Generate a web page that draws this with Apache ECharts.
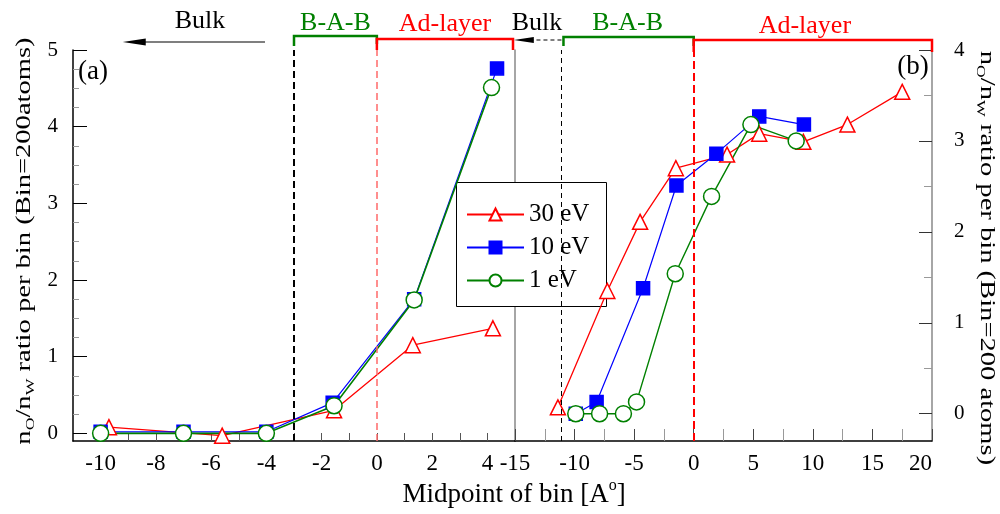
<!DOCTYPE html>
<html>
<head>
    <meta charset="UTF-8">
    <title>nO/nW ratio per bin</title>
    <script src="https://cdn.jsdelivr.net/npm/echarts@6/dist/echarts.min.js"></script>
    <style>
        html, body { margin: 0; padding: 0; background: #fff; }
        #main { width: 1000px; height: 514px; }
    </style>
</head>
<body>
    <div id="main"></div>
    <script type="text/javascript">
        // 面板 (a) 的数据
        var aX30 = [-9.7, -5.6, -1.55, 1.3, 4.2];
        var aY30 = [0.08, -0.03, 0.3, 1.15, 1.37];
        var aX10 = [-10, -7, -4, -1.6, 1.35, 4.35];
        var aY10 = [0.02, 0.02, 0.02, 0.4, 1.75, 4.76];
        var aX1 = [-10, -7, -4, -1.55, 1.35, 4.15];
        var aY1 = [0, 0, 0, 0.36, 1.74, 4.51];

        // 面板 (b) 的数据
        var bX30 = [-11.4, -7.25, -4.5, -1.5, 2.8, 5.5, 9.2, 12.9, 17.5];
        var bY30 = [0.07, 1.35, 2.11, 2.7, 2.85, 3.08, 2.99, 3.18, 3.54];
        var bX10 = [-9.9, -8.15, -4.25, -1.45, 1.9, 5.5, 9.25];
        var bY10 = [0, 0.13, 1.38, 2.51, 2.86, 3.27, 3.18];
        var bX1 = [-9.9, -7.9, -5.9, -4.8, -1.55, 1.5, 4.8, 8.6];
        var bY1 = [0, 0, 0, 0.13, 1.54, 2.39, 3.18, 3.0];

        // 刻度
        var aXLabels = [-10, -8, -6, -4, -2, 0, 2, 4];
        var aXTicks = [-10, -9, -8, -7, -6, -5, -4, -3, -2, -1, 0, 1, 2, 3, 4];
        var aYLabels = [0, 1, 2, 3, 4, 5];
        var aYMinor = [0.25, 0.5, 0.75, 1.25, 1.5, 1.75, 2.25, 2.5, 2.75, 3.25, 3.5, 3.75, 4.25, 4.5, 4.75];
        var bYLabels = [0, 1, 2, 3, 4];
        var bYMinor = [0.5, 1.5, 2.5, 3.5];

        // 区域分界
        var aBAB = [-3, 0];
        var aAd = [0, 5];
        var bBAB = [-11.1, 0];
        var bAd = [0, 20];

        var FONT = "'Liberation Serif', 'DejaVu Serif', serif";
        var RED = '#ff0000', BLUE = '#0000ff', GREEN = '#008000';

        function zip(xs, ys) {
            return xs.map(function (x, i) { return [x, ys[i]]; });
        }

        var myChart = echarts.init(document.getElementById('main'));

        function lineSeries(name, data, xi, yi, color, symbol, size, fill, lw) {
            return {
                name: name,
                type: 'line',
                xAxisIndex: xi,
                yAxisIndex: yi,
                data: data,
                symbol: symbol,
                symbolSize: size,
                lineStyle: { color: color, width: lw },
                itemStyle: { color: fill, borderColor: color, borderWidth: 1.5 },
                emphasis: { disabled: true },
                clip: false
            };
        }

        var s30a = lineSeries('30 eV', zip(aX30, aY30), 0, 0, RED, 'triangle', 15, '#fff', 1.3);
        s30a.markLine = {
            silent: true,
            symbol: 'none',
            label: { show: false },
            data: [
                { xAxis: aBAB[0], lineStyle: { color: '#000', type: [7, 4], width: 2 } },
                { xAxis: aBAB[1], lineStyle: { color: '#ff6a6a', type: [7, 4], width: 1.5 } }
            ]
        };
        var s30b = lineSeries('30 eV', zip(bX30, bY30), 1, 3, RED, 'triangle', 15, '#fff', 1.3);
        s30b.markLine = {
            silent: true,
            symbol: 'none',
            label: { show: false },
            data: [
                { xAxis: bBAB[0], lineStyle: { color: '#000', type: [5, 4], width: 1 } },
                { xAxis: bBAB[1], lineStyle: { color: RED, type: [8, 4], width: 2 } }
            ]
        };

        // y轴（含次刻度的辅助轴）
        function yAx(grid, pos, min, max, extra) {
            var ax = {
                type: 'value', gridIndex: grid, position: pos, min: min, max: max,
                axisLine: { show: false, onZero: false },
                axisTick: { show: false },
                axisLabel: { show: false },
                splitLine: { show: false }
            };
            for (var k in extra) ax[k] = extra[k];
            return ax;
        }

        var option = {
            animation: false,
            grid: [
                { left: 73, top: 50, width: 442, height: 391 },
                { left: 515, top: 50, width: 417, height: 391 }
            ],
            legend: {
                orient: 'vertical',
                left: 456,
                top: 182,
                padding: [20, 14, 13, 10],
                itemGap: 8,
                itemWidth: 57,
                itemHeight: 15,
                textStyle: { fontSize: 25, fontFamily: FONT, color: '#000' },
                data: ['30 eV', '10 eV', '1 eV']
            },
            xAxis: [
                {
                    type: 'value', gridIndex: 0, min: -11, max: 5,
                    axisLine: { onZero: false, lineStyle: { color: '#000', width: 1.5 } },
                    axisTick: { inside: true, length: 8, customValues: aXTicks, lineStyle: { color: '#555' } },
                    axisLabel: { customValues: aXLabels, fontSize: 23, fontFamily: FONT, color: '#000', margin: 11 },
                    splitLine: { show: false }
                },
                {
                    type: 'value', gridIndex: 1, min: -15, max: 20, interval: 5,
                    axisLine: { onZero: false, lineStyle: { color: '#000', width: 1.5 } },
                    axisTick: { inside: true, length: 12, lineStyle: { color: '#444' } },
                    minorTick: { show: true, splitNumber: 2, length: 12, lineStyle: { color: '#999' } },
                    axisLabel: { fontSize: 23, fontFamily: FONT, color: '#000', margin: 11, alignMaxLabel: 'right' },
                    splitLine: { show: false }
                }
            ],
            yAxis: [
                yAx(0, 'left', -0.1, 5, {
                    axisLine: { show: true, onZero: false, lineStyle: { color: '#000', width: 1.5 } },
                    axisTick: { show: true, inside: true, length: 14, customValues: aYLabels, lineStyle: { color: '#000' } },
                    axisLabel: { customValues: aYLabels, fontSize: 21, fontFamily: FONT, color: '#000', margin: 15 }
                }),
                yAx(0, 'left', -0.1, 5, {
                    axisTick: { show: true, inside: true, length: 6, customValues: aYMinor, lineStyle: { color: '#999' } }
                }),
                yAx(0, 'right', -0.1, 5, {
                    axisLine: { show: true, onZero: false, lineStyle: { color: '#888', width: 1.5 } }
                }),
                yAx(1, 'right', -0.3, 4, {
                    axisLine: { show: true, onZero: false, lineStyle: { color: '#888', width: 1.5 } },
                    axisTick: { show: true, inside: true, length: 13, customValues: bYLabels, lineStyle: { color: '#333' } },
                    axisLabel: { customValues: bYLabels, fontSize: 21, fontFamily: FONT, color: '#000', margin: 22 }
                }),
                yAx(1, 'right', -0.3, 4, {
                    axisTick: { show: true, inside: true, length: 8, customValues: bYMinor, lineStyle: { color: '#999' } }
                })
            ],
            series: [
                s30a,
                lineSeries('10 eV', zip(aX10, aY10), 0, 0, BLUE, 'rect', 13, BLUE, 1.2),
                lineSeries('1 eV', zip(aX1, aY1), 0, 0, GREEN, 'circle', 16, '#fff', 1.6),
                s30b,
                lineSeries('10 eV', zip(bX10, bY10), 1, 3, BLUE, 'rect', 13, BLUE, 1.2),
                lineSeries('1 eV', zip(bX1, bY1), 1, 3, GREEN, 'circle', 16, '#fff', 1.4)
            ]
        };

        myChart.setOption(option);

        // 注释：括号、箭头和文字
        function px(i, v) { return myChart.convertToPixel({ xAxisIndex: i }, v); }

        function bracket(x0, x1, yTop, y0, y1, color) {
            return {
                type: 'polyline', z: 100,
                shape: { points: [[x0, y0], [x0, yTop], [x1, yTop], [x1, y1]] },
                style: { stroke: color, lineWidth: 2.5, fill: null }
            };
        }
        function label(text, x, y, color, size) {
            return {
                type: 'text', z: 100, x: x, y: y,
                style: { text: text, fill: color, font: (size || 26) + 'px ' + FONT, align: 'center', verticalAlign: 'middle' }
            };
        }
        var richTitle = {
            n: { fontSize: 21, fontFamily: FONT, fill: '#000', lineHeight: 26 },
            s: { fontSize: 13, fontFamily: FONT, fill: '#000', lineHeight: 13, verticalAlign: 'bottom' }
        };
        function yTitle(text, x, y, rot) {
            return {
                type: 'text', z: 100, x: x, y: y, rotation: rot, scaleX: 1.36,
                style: { text: text, rich: richTitle, align: 'center', verticalAlign: 'middle' }
            };
        }

        var a0 = px(0, aBAB[0]), a1 = px(0, aBAB[1]), a2 = px(0, aAd[1]) - 2;
        var b0 = px(1, bBAB[0]), b1 = px(1, bBAB[1]), b2 = px(1, bAd[1]);
        var arrL0 = px(0, -9.2), arrL1 = px(0, -4.05);
        var arrR0 = px(1, -15.1);

        var graphics = [
            // 图例外框
            {
                type: 'rect', z: 3,
                shape: { x: 456.5, y: 182.5, width: 150, height: 124 },
                style: { fill: '#fff', stroke: '#000', lineWidth: 1 }
            },
            bracket(a0, a1, 36, 46, 44, GREEN),
            bracket(a1, a2, 39, 50, 50, RED),
            bracket(b0 + 2, b1, 37, 46, 46, GREEN),
            bracket(b1, b2, 40, 52, 52, RED),
            label('B-A-B', (a0 + a1) / 2, 23, GREEN),
            label('Ad-layer', (a1 + a2) / 2, 24, RED),
            label('B-A-B', (b0 + b1) / 2, 23, GREEN),
            label('Ad-layer', (b1 + b2) / 2 - 8, 26, RED),
            label('Bulk', 200, 21, '#000'),
            label('Bulk', 537, 23, '#000'),
            label('(a)', 93, 72, '#000', 27),
            label('(b)', 913, 67, '#000', 27),
            {
                type: 'line', z: 100,
                shape: { x1: arrL1, y1: 42, x2: arrL0 + 20, y2: 42 },
                style: { stroke: '#000', lineWidth: 1.2 }
            },
            {
                type: 'polygon', z: 100,
                shape: { points: [[arrL0, 42], [arrL0 + 23, 38.5], [arrL0 + 23, 45.5]] },
                style: { fill: '#000' }
            },
            {
                type: 'line', z: 100,
                shape: { x1: b0, y1: 40, x2: arrR0 + 18, y2: 40 },
                style: { stroke: '#000', lineWidth: 1, lineDash: [4, 3] }
            },
            {
                type: 'polygon', z: 100,
                shape: { points: [[arrR0, 40], [arrR0 + 20, 37], [arrR0 + 20, 43]] },
                style: { fill: '#000' }
            },
            yTitle('{n|n}{s|O}{n|/n}{s|W}{n| ratio per bin (Bin=200atoms)}', 24, 241, Math.PI / 2),
            yTitle('{n|n}{s|O}{n|/n}{s|W}{n| ratio per bin (Bin=200 atoms)}', 987, 258, -Math.PI / 2),
            {
                type: 'text', z: 100, x: 514, y: 495,
                style: {
                    text: '{n|Midpoint of bin [A}{s|o}{n|]}',
                    align: 'center', verticalAlign: 'middle',
                    rich: {
                        n: { fontSize: 27, fontFamily: FONT, fill: '#000', lineHeight: 34 },
                        s: { fontSize: 16, fontFamily: FONT, fill: '#000', lineHeight: 16, verticalAlign: 'top' }
                    }
                }
            }
        ];

        myChart.setOption({ graphic: graphics });
    </script>
</body>
</html>
